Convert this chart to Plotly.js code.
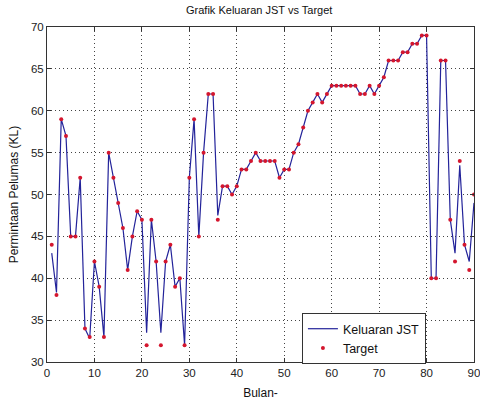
<!DOCTYPE html>
<html>
<head>
<meta charset="utf-8">
<script src="https://cdn.plot.ly/plotly-3.0.1.min.js"></script>
<style>html,body{margin:0;padding:0;background:#fff;}#chart{width:480px;height:401px;}</style>
</head>
<body>
<div id="chart"></div>
<script>
// Month index (Bulan)
const bulan = Array.from({length: 90}, (_, i) => i + 1);

// Target values (KL)
const target = [
  44, 38, 59, 57, 45, 45, 52, 34, 33, 42,
  39, 33, 55, 52, 49, 46, 41, 45, 48, 47,
  32, 47, 42, 32, 42, 44, 39, 40, 32, 52,
  59, 45, 55, 62, 62, 47, 51, 51, 50, 51,
  53, 53, 54, 55, 54, 54, 54, 54, 52, 53,
  53, 55, 56, 58, 60, 61, 62, 61, 62, 63,
  63, 63, 63, 63, 63, 62, 62, 63, 62, 63,
  64, 66, 66, 66, 67, 67, 68, 68, 69, 69,
  40, 40, 66, 66, 47, 42, 54, 44, 41, 50
];

// Network output (Keluaran JST)
const keluaranJST = [
  43, 38.3, 59, 57, 45, 45, 52, 34, 32.8, 42,
  39, 33, 55, 52, 49, 46, 41, 45, 48, 47,
  33.5, 47, 42, 33.5, 42, 44, 39, 40, 32, 52,
  59, 45, 55, 62, 62, 47.5, 51, 51, 50, 51,
  53, 53, 54, 55, 54, 54, 54, 54, 52, 53,
  53, 55, 56, 58, 60, 61, 62, 61, 62, 63,
  63, 63, 63, 63, 63, 62, 62, 63, 62, 63,
  64, 66, 66, 66, 67, 67, 68, 68, 69, 69,
  40, 40, 66, 66, 47, 43, 53.5, 44, 42, 49
];

const xTicks = [0, 10, 20, 30, 40, 50, 60, 70, 80, 90];
const yTicks = [30, 35, 40, 45, 50, 55, 60, 65, 70];

const font = 'Liberation Sans, Arial, Helvetica, sans-serif';

const traces = [
  {
    x: bulan, y: keluaranJST, type: 'scatter', mode: 'lines',
    name: 'Keluaran JST',
    line: {color: '#23239a', width: 1.2}
  },
  {
    x: bulan, y: target, type: 'scatter', mode: 'markers',
    name: 'Target',
    marker: {color: '#d4162e', size: 4, symbol: 'circle'}
  }
];

const axisCommon = {
  showline: true, linecolor: '#333', linewidth: 1, mirror: 'ticks',
  ticks: 'inside', ticklen: 4, tickcolor: '#333',
  showgrid: true, gridcolor: '#444', griddash: '1px,3px', gridwidth: 1,
  zeroline: false, tickfont: {family: font, size: 11.5, color: '#222'},
  ticklabeloverflow: 'allow'
};

const layout = {
  width: 480, height: 401,
  margin: {l: 47, r: 6, t: 27, b: 39},
  paper_bgcolor: '#fff', plot_bgcolor: '#fff',
  title: {text: 'Grafik Keluaran JST vs Target', font: {family: font, size: 11, color: '#111'}, x: 0.54, xanchor: 'center', y: 0.985, yanchor: 'top'},
  xaxis: Object.assign({}, axisCommon, {
    range: [0, 90], tickvals: xTicks, ticktext: xTicks.map(String),
    title: {text: 'Bulan-', font: {family: font, size: 12, color: '#111'}, standoff: 10}
  }),
  yaxis: Object.assign({}, axisCommon, {
    range: [30, 70], tickvals: yTicks, ticktext: yTicks.map(String),
    title: {text: 'Permintaan Pelumas (KL)', font: {family: font, size: 12, color: '#111'}, standoff: 9}
  }),
  showlegend: true,
  legend: {
    x: 0.597, y: 0.146, xanchor: 'left', yanchor: 'top',
    bgcolor: '#fff', bordercolor: '#333', borderwidth: 1,
    font: {family: font, size: 12.5, color: '#111'},
    tracegroupgap: 0, itemwidth: 30
  }
};

Plotly.newPlot('chart', traces, layout, {displayModeBar: false, staticPlot: true});
</script>
</body>
</html>
